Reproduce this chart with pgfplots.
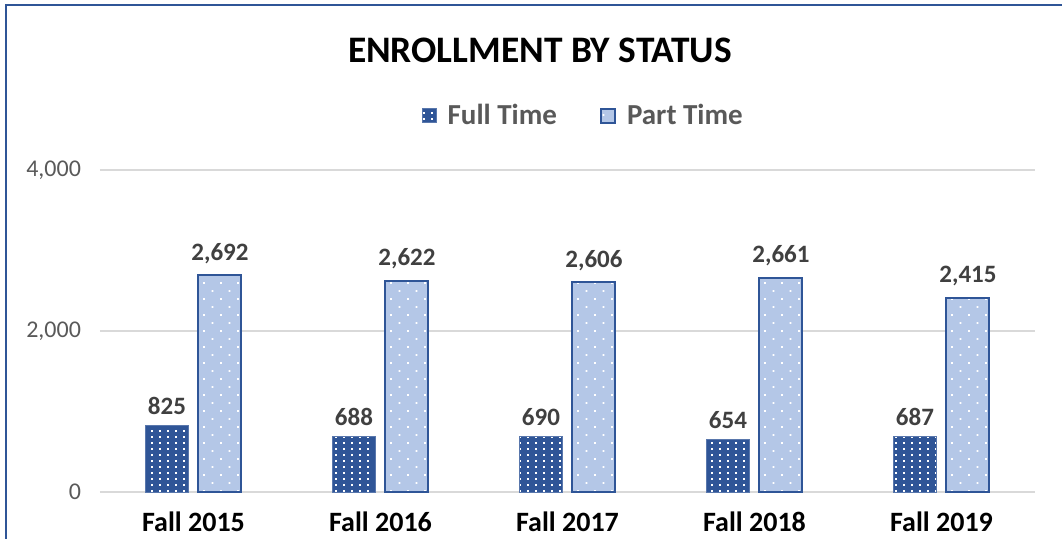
\documentclass[border=0pt]{standalone}
\usepackage{fontspec}
\setmainfont{Carlito}
\usepackage{pgfplots}
\pgfplotsset{compat=1.18}
\usetikzlibrary{patterns}
\definecolor{fullc}{HTML}{2F5597}
\definecolor{partc}{HTML}{B4C7E7}
\definecolor{edgec}{HTML}{2F5597}
\definecolor{framec}{HTML}{2F5597}
\definecolor{gridc}{HTML}{D9D9D9}
\definecolor{tickc}{HTML}{595959}
\definecolor{labc}{HTML}{404040}
\pgfdeclarepatternformonly{darkdots}{\pgfqpoint{-1pt}{-1pt}}{\pgfqpoint{1pt}{1pt}}{\pgfqpoint{4pt}{3pt}}{%
  \pgfpathrectangle{\pgfqpoint{-0.55pt}{-0.55pt}}{\pgfqpoint{1.1pt}{1.1pt}}\pgfusepath{fill}}
\pgfdeclarepatternformonly{lightdots}{\pgfqpoint{-1pt}{-1pt}}{\pgfqpoint{5.5pt}{5pt}}{\pgfqpoint{8.5pt}{8pt}}{%
  \pgfpathrectangle{\pgfqpoint{-0.45pt}{-0.45pt}}{\pgfqpoint{0.9pt}{0.9pt}}%
  \pgfpathrectangle{\pgfqpoint{3.8pt}{3.55pt}}{\pgfqpoint{0.9pt}{0.9pt}}\pgfusepath{fill}}
\begin{document}
\begin{tikzpicture}
\path[use as bounding box] (-50pt,-23.5pt) rectangle (481pt,246pt);
\draw[framec, line width=1.3pt] (-47pt,-30pt) -- (-47pt,243.5pt) -- (490pt,243.5pt);
\node[font=\bfseries\fontsize{18.7}{21}\selectfont, text=black] at (220pt,221pt) {ENROLLMENT BY STATUS};
\begin{axis}[
  scale only axis, width=467.5pt, height=161pt,
  ybar=5pt, bar width=21.5pt,
  xmin=-0.5, xmax=4.5, ymin=0, ymax=4000,
  xtick={0,1,2,3,4},
  xticklabels={Fall 2015,Fall 2016,Fall 2017,Fall 2018,Fall 2019},
  ytick={0,2000,4000},
  axis line style={draw=none},
  ymajorgrids, grid style={gridc, line width=0.8pt},
  major tick length=0pt,
  yticklabel style={font=\fontsize{12}{14}\selectfont, text=tickc, xshift=-6pt},
  xticklabel style={font=\bfseries\fontsize{14}{16}\selectfont, text=black, yshift=-6.5pt},
  /pgf/number format/.cd, 1000 sep={,}, assume math mode=true, /pgfplots/.cd,
  nodes near coords,
  nodes near coords style={font=\bfseries\fontsize{12.5}{14}\selectfont, text=labc, yshift=2pt},
  clip=false,
  legend style={at={(0.518,1.168)}, anchor=center, draw=none, legend columns=2,
    font=\bfseries\fontsize{14.5}{16}\selectfont, text=tickc,
    /tikz/every even column/.append style={column sep=19.5pt}},
  legend image code/.code={\draw[#1] (0pt,-3.5pt) rectangle (7pt,3.5pt); \path (10.5pt,0pt);},
]
\addplot[fill=fullc, draw=fullc!80!white, line width=0.4pt, postaction={pattern=darkdots, pattern color=white}]
  coordinates {(0,825) (1,688) (2,690) (3,654) (4,687)};
\addplot[fill=partc, draw=edgec, line width=1pt, postaction={pattern=lightdots, pattern color=white}]
  coordinates {(0,2692) (1,2622) (2,2606) (3,2661) (4,2415)};
\legend{Full Time, Part Time}
\end{axis}
\end{tikzpicture}
\end{document}
